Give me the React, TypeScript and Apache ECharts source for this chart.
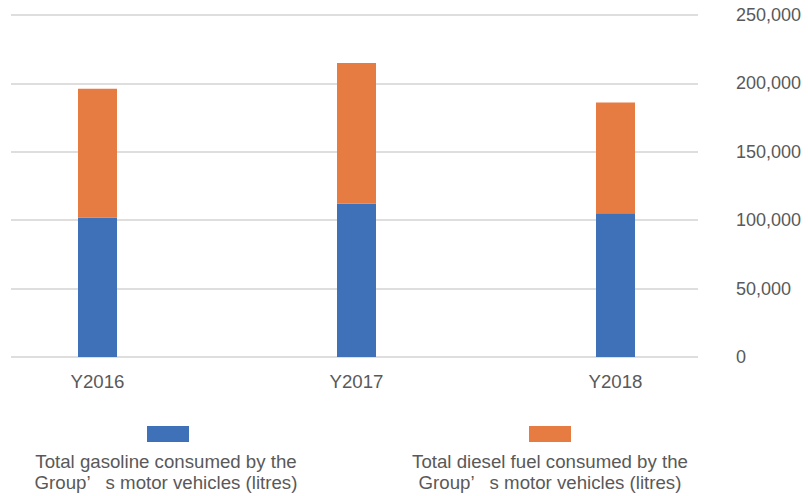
import React, { useEffect, useRef } from "react";
import * as echarts from "echarts";

const categories = ["Y2016", "Y2017", "Y2018"];
const gasoline = [102000, 112000, 105000];
const diesel = [94000, 103000, 81000];
const seriesNames = [
  "Total gasoline consumed by the Group’s motor vehicles (litres)",
  "Total diesel fuel consumed by the Group’s motor vehicles (litres)",
];
const legendLines = [
  ["Total gasoline consumed by the", "Group", "s motor vehicles (litres)"],
  ["Total diesel fuel consumed by the", "Group", "s motor vehicles (litres)"],
];
const yMax = 250000;
const yStep = 50000;

const FONT = "'Liberation Sans', Arial, sans-serif";
const GRAY = "#595959";
const BLUE = "#3F71B9";
const ORANGE = "#E67C42";

export default function App() {
  const ref = useRef<HTMLDivElement>(null);
  useEffect(() => {
    if (!ref.current) return;
    const chart = echarts.init(ref.current, undefined, { renderer: "svg" });
    const legendText = (i: number) =>
      legendLines[i][0] + "\n" + legendLines[i][1] + "{q|’}" + legendLines[i][2];
    chart.setOption({
      animation: false,
      backgroundColor: "#ffffff",
      grid: [
        { left: 97.5, right: 192.5, top: 15, bottom: 139 },
        { left: 11, right: 110, top: 15, bottom: 139 },
      ],
      xAxis: [
        {
          type: "category",
          gridIndex: 0,
          boundaryGap: false,
          data: categories,
          axisLine: { show: false },
          axisTick: { show: false },
          axisLabel: { fontSize: 18.67, color: GRAY, fontFamily: FONT, margin: 15 },
        },
        { type: "value", gridIndex: 1, min: 0, max: 1, show: false },
      ],
      yAxis: [
        { type: "value", gridIndex: 0, min: 0, max: yMax, interval: yStep, show: false },
        {
          type: "value",
          gridIndex: 1,
          position: "right",
          min: 0,
          max: yMax,
          interval: yStep,
          axisLine: { show: false },
          axisTick: { show: false },
          splitLine: { show: true, lineStyle: { color: "#D3D3D3", width: 1.5 } },
          axisLabel: {
            fontSize: 18,
            color: GRAY,
            fontFamily: FONT,
            margin: 38,
            formatter: (v: number) => v.toLocaleString("en-US"),
          },
        },
      ],
      legend: [
        {
          data: [seriesNames[0]],
          left: 147,
          top: 426,
          padding: 0,
          icon: "rect",
          itemWidth: 42,
          itemHeight: 16,
          formatter: () => "",
          selectedMode: false,
        },
        {
          data: [seriesNames[1]],
          left: 529,
          top: 426,
          padding: 0,
          icon: "rect",
          itemWidth: 42,
          itemHeight: 16,
          formatter: () => "",
          selectedMode: false,
        },
      ],
      graphic: [0, 1].map((i) => ({
        type: "text",
        x: i === 0 ? 166 : 550,
        y: 451,
        style: {
          text: legendText(i),
          fontSize: 18.67,
          fontFamily: FONT,
          fill: GRAY,
          align: "center",
          verticalAlign: "top",
          lineHeight: 21,
          rich: {
            q: {
              fontFamily: FONT,
              fontSize: 18.67,
              fill: GRAY,
              lineHeight: 21,
              padding: [0, 15, 0, 0],
            },
          },
        },
      })),
      series: [
        {
          name: seriesNames[0],
          type: "bar",
          stack: "total",
          xAxisIndex: 0,
          yAxisIndex: 0,
          barWidth: 39,
          data: gasoline,
          itemStyle: { color: BLUE },
        },
        {
          name: seriesNames[1],
          type: "bar",
          stack: "total",
          xAxisIndex: 0,
          yAxisIndex: 0,
          barWidth: 39,
          data: diesel,
          itemStyle: { color: ORANGE },
        },
      ],
    });
    return () => chart.dispose();
  }, []);
  return (
    <div
      ref={ref}
      style={{ position: "fixed", left: 0, top: 0, width: 808, height: 496 }}
    />
  );
}
